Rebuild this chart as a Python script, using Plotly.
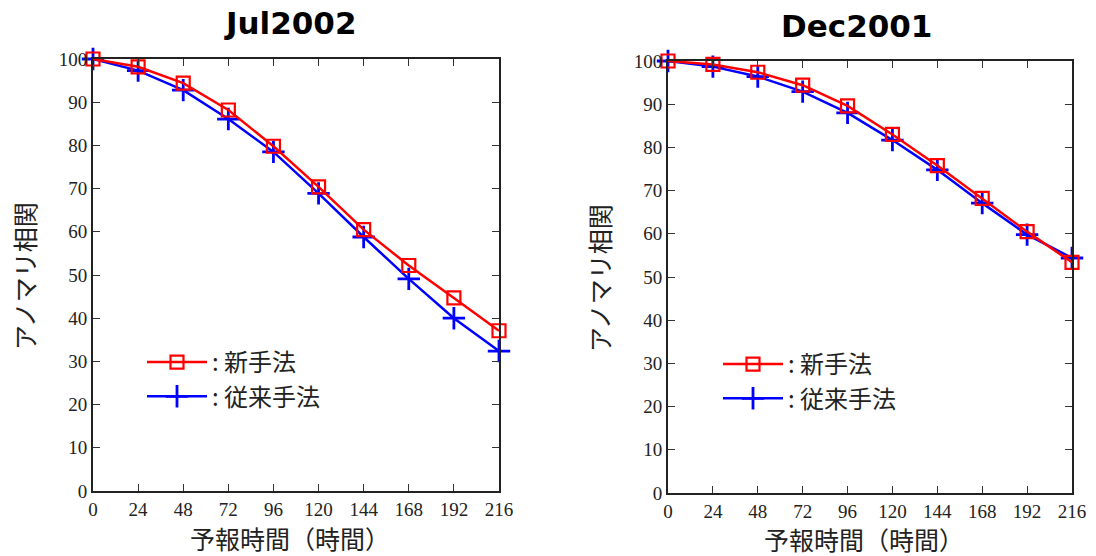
import plotly.graph_objects as go

hours = [0, 24, 48, 72, 96, 120, 144, 168, 192, 216]
tick_labels = [str(h) for h in hours]
y_ticks = [0, 10, 20, 30, 40, 50, 60, 70, 80, 90, 100]

jul_new = [100, 98.2, 94.4, 88.2, 79.8, 70.4, 60.5, 52.2, 44.7, 37.1]
jul_old = [100, 97.3, 92.8, 86.1, 78.5, 68.9, 58.8, 49.1, 40.0, 32.4]
dec_new = [100, 99.2, 97.4, 94.4, 89.6, 83.0, 75.8, 68.2, 60.5, 53.4]
dec_old = [100, 98.7, 96.4, 92.9, 88.0, 81.7, 74.8, 67.1, 59.8, 54.4]

titles = ["Jul2002", "Dec2001"]
name_new = ": 新手法"
name_old = ": 従来手法"
ytitle = "アノマリ相関"
xtitle = "予報時間（時間）"

RED = "#ff0000"
BLUE = "#0000ff"

fig = go.Figure()

def add_pair(new, old, xa, ya, leg):
    fig.add_trace(go.Scatter(
        x=hours, y=old, name=name_old, mode="lines+markers",
        line=dict(color=BLUE, width=2.5),
        marker=dict(symbol="cross-thin", size=16, line=dict(color=BLUE, width=2.8)),
        xaxis=xa, yaxis=ya, legend=leg, legendrank=2, cliponaxis=False))
    fig.add_trace(go.Scatter(
        x=hours, y=new, name=name_new, mode="lines+markers",
        line=dict(color=RED, width=2.5),
        marker=dict(symbol="square-open", size=13, color=RED, line=dict(color=RED, width=2.2)),
        xaxis=xa, yaxis=ya, legend=leg, legendrank=1, cliponaxis=False))

add_pair(jul_new, jul_old, "x", "y", "legend")
add_pair(dec_new, dec_old, "x2", "y2", "legend2")

tickfont = dict(family="Liberation Serif, DejaVu Serif, serif", size=19, color="#222222")

def xaxis(domain, anchor):
    return dict(domain=domain, anchor=anchor, range=[0, 216], tickvals=hours, ticktext=tick_labels,
                ticks="inside", ticklen=7, tickwidth=1, tickcolor="#333333",
                showline=True, linecolor="#222222", linewidth=2, mirror="ticks",
                showgrid=False, zeroline=False, tickfont=tickfont, fixedrange=True, automargin=False)

def yaxis(domain, anchor):
    return dict(domain=domain, anchor=anchor, range=[0, 100], tickvals=y_ticks,
                ticks="inside", ticklen=7, tickwidth=1, tickcolor="#333333",
                showline=True, linecolor="#222222", linewidth=2, mirror="ticks",
                showgrid=False, zeroline=False, tickfont=tickfont, fixedrange=True, automargin=False)

W, H = 1096, 556

def px(x):
    return x / W

def py(y):
    return 1 - y / H

L1, R1 = px(93), px(499)
L2, R2 = px(668), px(1072)
T1, B1 = py(59), py(491)
T2, B2 = py(61), py(493)

legfont = dict(family="Noto Sans CJK JP, sans-serif", size=24, color="#222222")

fig.update_layout(
    width=W, height=H,
    margin=dict(l=0, r=0, t=0, b=0, pad=0, autoexpand=False),
    paper_bgcolor="white", plot_bgcolor="white",
    xaxis=xaxis([L1, R1], "y"), yaxis=yaxis([B1, T1], "x"),
    xaxis2=xaxis([L2, R2], "y2"), yaxis2=yaxis([B2, T2], "x2"),
    legend=dict(x=px(142), y=py(340), xanchor="left", yanchor="top",
                bgcolor="rgba(0,0,0,0)", font=legfont, itemwidth=60, tracegroupgap=0),
    legend2=dict(x=px(718), y=py(342), xanchor="left", yanchor="top",
                 bgcolor="rgba(0,0,0,0)", font=legfont, itemwidth=60, tracegroupgap=0),
    showlegend=True,
)

def ann(x, y, text, font, angle=0):
    return dict(x=px(x), y=py(y), xref="paper", yref="paper", text=text, textangle=angle,
                xanchor="center", yanchor="middle", showarrow=False, font=font)

titlefont = dict(family="DejaVu Sans, Liberation Sans, sans-serif", size=31, color="black", weight="bold")
axfont = dict(family="Noto Sans CJK JP, sans-serif", size=25, color="#222222")
annots = [
    ann(290, 23, titles[0], titlefont),
    ann(856, 26, titles[1], titlefont),
    ann(24, 276, ytitle, axfont, -90),
    ann(599, 278, ytitle, axfont, -90),
    ann(290, 538, xtitle, axfont),
    ann(864, 539, xtitle, axfont),
]
fig.update_layout(annotations=annots)

fig.write_html("out.html", config={"displayModeBar": False},
               post_script="document.body.style.margin='0';")
